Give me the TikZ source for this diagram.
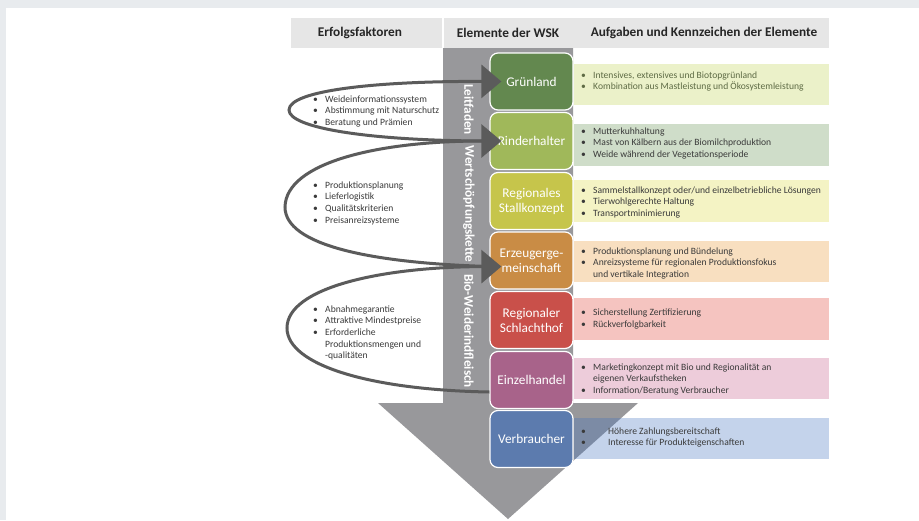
\documentclass[tikz,border=0pt]{standalone}
\usepackage{fontspec}
\setmainfont{Carlito}
\usetikzlibrary{arrows.meta}
\definecolor{pageedge}{HTML}{E8EBEE}
\definecolor{hdr}{HTML}{E6E6E6}
\definecolor{hdrtxt}{HTML}{262626}
\definecolor{shaft}{HTML}{98989B}
\definecolor{loopc}{HTML}{5B5B5B}
\definecolor{dtxt}{HTML}{3A3A3A}
\definecolor{gtxt}{HTML}{5E6B45}
\definecolor{eGr}{HTML}{63884F}
\definecolor{eRi}{HTML}{A0B85A}
\definecolor{eSt}{HTML}{C6C54B}
\definecolor{eEr}{HTML}{C98C45}
\definecolor{eSc}{HTML}{C9504A}
\definecolor{eEi}{HTML}{A8638A}
\definecolor{eVb}{HTML}{5C7BAE}
\definecolor{dGr}{HTML}{EBF1C9}
\definecolor{dRi}{HTML}{CFDDC9}
\definecolor{dSt}{HTML}{F4F3C4}
\definecolor{dEr}{HTML}{F8DFC0}
\definecolor{dSc}{HTML}{F5C4C0}
\definecolor{dEi}{HTML}{EDCCDA}
\definecolor{dVb}{HTML}{3C6EBE}
\newcommand{\bl}{\textbullet}
\tikzset{
  elem/.style={draw=white, line width=1.2pt, rounded corners=8pt, minimum width=83pt,
    minimum height=57pt, text=white, font=\fontsize{13.3}{15}\selectfont, align=center, inner sep=0pt},
  descbox/.style={minimum width=255pt, inner sep=0pt, anchor=north west},
  dtext/.style={anchor=base west, inner sep=0pt, font=\fontsize{9.6}{11.7}\selectfont, text=dtxt},
  ltext/.style={anchor=base west, inner sep=0pt, font=\fontsize{9.6}{11.7}\selectfont, text=dtxt},
  hdrtext/.style={font=\bfseries\fontsize{13.3}{15}\selectfont, text=hdrtxt, inner sep=0pt},
  vtext/.style={rotate=-90, text=white, font=\bfseries\fontsize{13.2}{15}\selectfont, inner sep=0pt},
  loopline/.style={draw=loopc, line width=3pt, -{Triangle[length=20pt,width=33pt]}},
}
\begin{document}
\begin{tikzpicture}[x=1pt,y=-1pt]
\useasboundingbox (0,0) rectangle (919,520);
\fill[white] (0,0) rectangle (919,520);
\fill[pageedge] (0,0) rectangle (919,8);
\fill[pageedge] (0,0) rectangle (6,520);
% header band
\fill[hdr] (291,18) rectangle (829,48);
\draw[white, line width=1.5pt] (443,18) -- (443,48);
\node[hdrtext] (h1) at (360,33) {Erfolgsfaktoren};
\node[hdrtext] (h2) at (508,33) {Elemente der WSK};
\node[hdrtext] (h3) at (704,33) {Aufgaben und Kennzeichen der Elemente};
% big gray arrow
\fill[shaft] (443,48) -- (573,48) -- (573,403) -- (638,403) -- (508,519) -- (378,403) -- (443,403) -- cycle;
\node[vtext] (lf1) at (469,109.5) {Leitfaden};
\node[vtext] (lf2) at (469,204) {Wertschöpfungskette};
\node[vtext] (lf3) at (469,331) {Bio-Weiderindfleisch};
% description boxes
\node[descbox, fill=dGr, minimum height=41pt] (dgr) at (574,64) {};
\node[descbox, fill=dRi, minimum height=42pt] (dri) at (574,124) {};
\node[descbox, fill=dSt, minimum height=42pt] (dst) at (574,180) {};
\node[descbox, fill=dEr, minimum height=41pt] (der) at (574,241) {};
\node[descbox, fill=dSc, minimum height=42pt] (dsc) at (574,298) {};
\node[descbox, fill=dEi, minimum height=41pt] (dei) at (574,358) {};
\node[descbox, fill=dVb, fill opacity=0.3, minimum height=41pt] (dvb) at (574,418) {};
% description texts
\node[dtext, text=gtxt] (tgr) at (581,78) {\begin{tabular}[t]{@{}p{12pt}@{}l@{}}
\bl & Intensives, extensives und Biotopgrünland\\
\bl & Kombination aus Mastleistung und Ökosystemleistung\end{tabular}};
\node[dtext] (tri) at (581,134) {\begin{tabular}[t]{@{}p{12pt}@{}l@{}}
\bl & Mutterkuhhaltung\\
\bl & Mast von Kälbern aus der Biomilchproduktion\\
\bl & Weide während der Vegetationsperiode\end{tabular}};
\node[dtext] (tst) at (581,193) {\begin{tabular}[t]{@{}p{12pt}@{}l@{}}
\bl & Sammelstallkonzept oder/und einzelbetriebliche Lösungen\\
\bl & Tierwohlgerechte Haltung\\
\bl & Transportminimierung\end{tabular}};
\node[dtext] (ter) at (581,254) {\begin{tabular}[t]{@{}p{12pt}@{}l@{}}
\bl & Produktionsplanung und Bündelung\\
\bl & Anreizsysteme für regionalen Produktionsfokus\\
 & und vertikale Integration\end{tabular}};
\node[dtext] (tsc) at (581,315.5) {\begin{tabular}[t]{@{}p{12pt}@{}l@{}}
\bl & Sicherstellung Zertifizierung\\
\bl & Rückverfolgbarkeit\end{tabular}};
\node[dtext] (tei) at (581,370) {\begin{tabular}[t]{@{}p{12pt}@{}l@{}}
\bl & Marketingkonzept mit Bio und Regionalität an\\
 & eigenen Verkaufstheken\\
\bl & Information/Beratung Verbraucher\end{tabular}};
\node[dtext] (tvb) at (581,434) {\begin{tabular}[t]{@{}p{27pt}@{}l@{}}
\bl & Höhere Zahlungsbereitschaft\\
\bl & Interesse für Produkteigenschaften\end{tabular}};
% element boxes
\node[elem, fill=eGr] (gr) at (531.5,81.5) {Grünland};
\node[elem, fill=eRi] (ri) at (531.5,141) {Rinderhalter};
\node[elem, fill=eSt] (st) at (531.5,201) {Regionales\\Stallkonzept};
\node[elem, fill=eEr] (er) at (531.5,260.5) {Erzeugerge-\\meinschaft};
\node[elem, fill=eSc] (sc) at (531.5,320) {Regionaler\\Schlachthof};
\node[elem, fill=eEi] (ei) at (531.5,380) {Einzelhandel};
\node[elem, fill=eVb] (vb) at (531.5,439) {Verbraucher};
% loops
\draw[loopline] (ri.west) .. controls (370,141) and (289,128) .. (289,110)
  .. controls (289,90) and (380,81) .. ([xshift=12pt]gr.west);
\draw[loopline] ([yshift=-6pt]er.west) .. controls (370,263) and (285,245) .. (285,207)
  .. controls (286,162) and (380,141) .. ([xshift=12pt]ri.west);
\draw[loopline] ([yshift=-12pt]ei.west) .. controls (370,390) and (287,365) .. (287,328)
  .. controls (287,288) and (380,267) .. ([xshift=12pt,yshift=-6pt]er.west);
% left texts
\node[ltext] (l1) at (313,102) {\begin{tabular}[t]{@{}p{12pt}@{}l@{}}
\bl & Weideinformationssystem\\
\bl & Abstimmung mit Naturschutz\\
\bl & Beratung und Prämien\end{tabular}};
\node[ltext] (l2) at (313,188) {\begin{tabular}[t]{@{}p{12pt}@{}l@{}}
\bl & Produktionsplanung\\
\bl & Lieferlogistik\\
\bl & Qualitätskriterien\\
\bl & Preisanreizsysteme\end{tabular}};
\node[ltext] (l3) at (313,312) {\begin{tabular}[t]{@{}p{12pt}@{}l@{}}
\bl & Abnahmegarantie\\
\bl & Attraktive Mindestpreise\\
\bl & Erforderliche\\
 & Produktionsmengen und\\
 & -qualitäten\end{tabular}};
\end{tikzpicture}
\end{document}
